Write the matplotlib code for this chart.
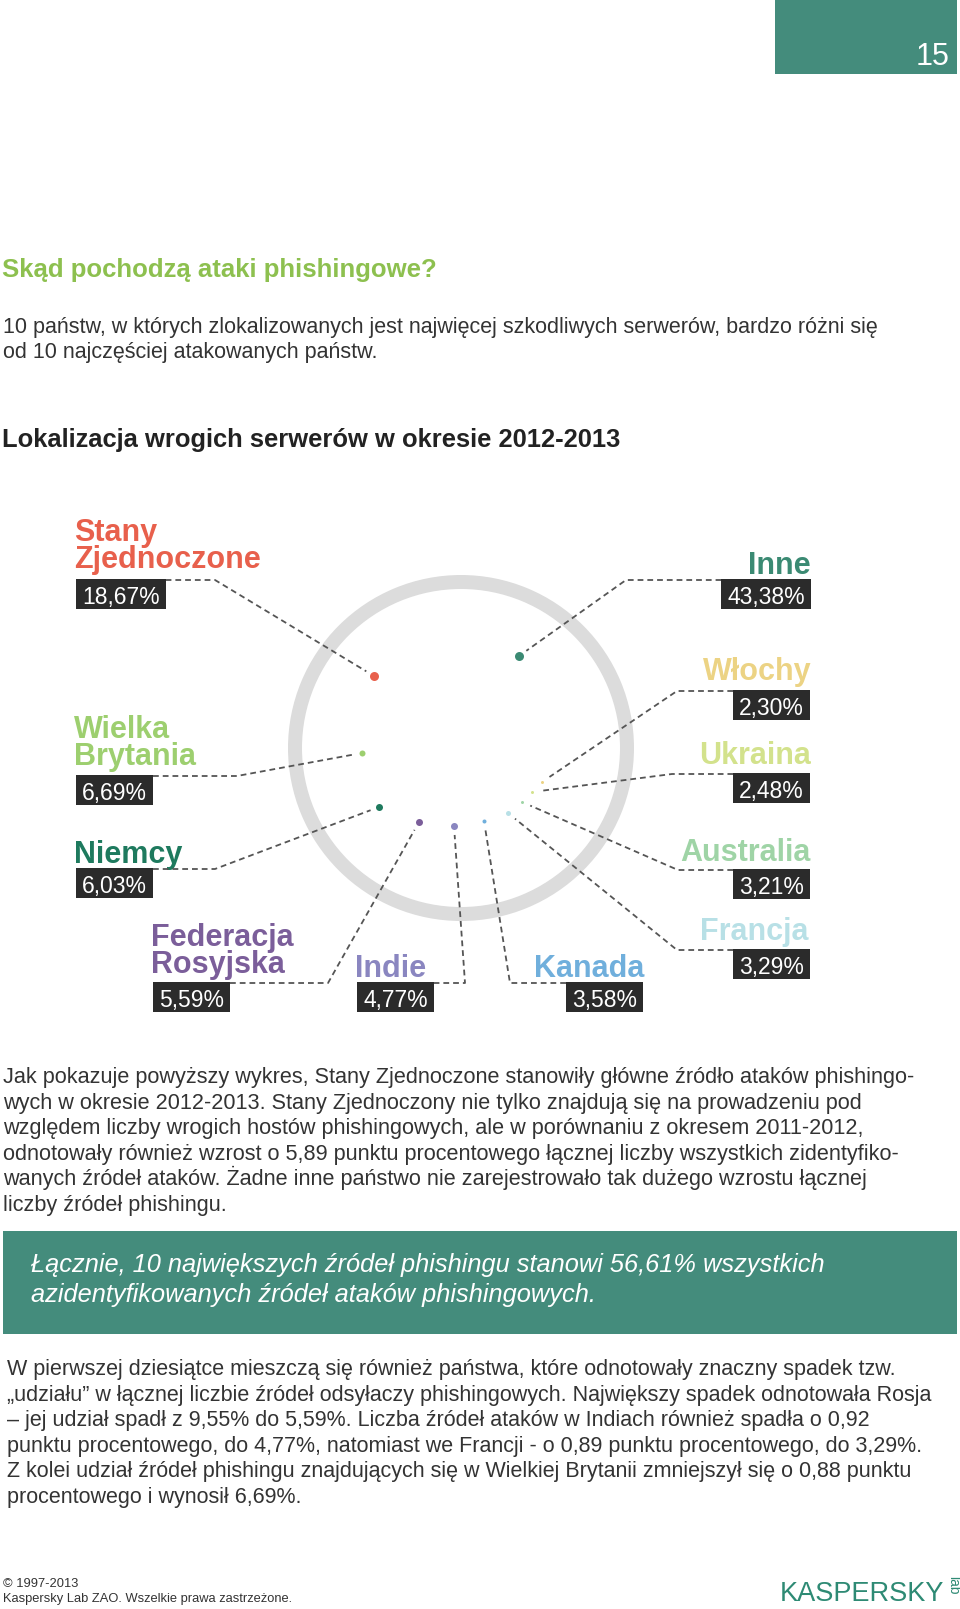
import matplotlib
matplotlib.use('Agg')
import matplotlib.pyplot as plt
from matplotlib.patches import Rectangle, Annulus

W, H = 960, 1609

# chart data
countries = ['Stany\nZjednoczone', 'Wielka\nBrytania', 'Niemcy', 'Federacja\nRosyjska', 'Indie',
             'Kanada', 'Francja', 'Australia', 'Ukraina', 'Włochy', 'Inne']
shares = [18.67, 6.69, 6.03, 5.59, 4.77, 3.58, 3.29, 3.21, 2.48, 2.30, 43.38]
colors = ['#e8604c', '#9dcf6f', '#1e7a5e', '#7b5e9a', '#8a86c0',
          '#70afdc', '#b8e0e6', '#9fd4a6', '#d3e28c', '#ecd384', '#3b8a73']

# layout (pixels): side, name x, first baseline, box x (left side: left edge, right side: right edge),
# box top, elbow x, dot x, dot y, dot diameter
layout = [
    ('L', 74, 543, 76, 579, 215, 374, 676, 9),
    ('L', 74, 740, 76, 775, 237, 362, 753, 6),
    ('L', 74, 863, 76, 868, 215, 379, 807, 7),
    ('L', 151, 948, 153, 982, 328, 419, 822, 7),
    ('L', 355, 977, 357, 982, 465, 454, 826, 7),
    ('R', 644, 977, 643, 982, 510, 484, 821, 4),
    ('R', 809, 940, 810, 949, 677, 508, 813, 5),
    ('R', 811, 861, 810, 869, 678, 522, 802, 3),
    ('R', 811, 764, 810, 773, 672, 532, 792, 3),
    ('R', 812, 680, 810, 690, 677, 542, 782, 3),
    ('R', 811, 574, 811, 579, 626, 519, 656, 9),
]
ring_center = (461, 748)

heading = 'Skąd pochodzą ataki phishingowe?'
intro = ['10 państw, w których zlokalizowanych jest najwięcej szkodliwych serwerów, bardzo różni się',
         'od 10 najczęściej atakowanych państw.']
chart_title = 'Lokalizacja wrogich serwerów w okresie 2012-2013'
para2 = ['Jak pokazuje powyższy wykres, Stany Zjednoczone stanowiły główne źródło ataków phishingo-',
         'wych w okresie 2012-2013. Stany Zjednoczony nie tylko znajdują się na prowadzeniu pod',
         'względem liczby wrogich hostów phishingowych, ale w porównaniu z okresem 2011-2012,',
         'odnotowały również wzrost o 5,89 punktu procentowego łącznej liczby wszystkich zidentyfiko-',
         'wanych źródeł ataków. Żadne inne państwo nie zarejestrowało tak dużego wzrostu łącznej',
         'liczby źródeł phishingu.']
callout = ['Łącznie, 10 największych źródeł phishingu stanowi 56,61% wszystkich',
           'azidentyfikowanych źródeł ataków phishingowych.']
para3 = ['W pierwszej dziesiątce mieszczą się również państwa, które odnotowały znaczny spadek tzw.',
         '„udziału” w łącznej liczbie źródeł odsyłaczy phishingowych. Największy spadek odnotowała Rosja',
         '– jej udział spadł z 9,55% do 5,59%. Liczba źródeł ataków w Indiach również spadła o 0,92',
         'punktu procentowego, do 4,77%, natomiast we Francji - o 0,89 punktu procentowego, do 3,29%.',
         'Z kolei udział źródeł phishingu znajdujących się w Wielkiej Brytanii zmniejszył się o 0,88 punktu',
         'procentowego i wynosił 6,69%.']
footer = ['© 1997-2013', 'Kaspersky Lab ZAO. Wszelkie prawa zastrzeżone.']

TEAL = '#448c7c'
DARK = '#2b2b2b'
TXT = '#333333'

plt.rcParams['font.family'] = ['Liberation Sans', 'DejaVu Sans']

fig = plt.figure(figsize=(W / 100, H / 100), dpi=100)
ax = fig.add_axes([0, 0, 1, 1])
ax.set_xlim(0, W)
ax.set_ylim(H, 0)
ax.axis('off')

# page number tab
ax.add_patch(Rectangle((775, 0), 182, 74, color=TEAL, lw=0))
ax.text(949, 65, '15', color='white', fontsize=22, ha='right', va='baseline')

ax.text(2, 277, heading, color='#8dc04f', fontsize=18.5, fontweight='bold', va='baseline')
for i, line in enumerate(intro):
    ax.text(3, 333 + 25 * i, line, color=TXT, fontsize=15.5, va='baseline')
ax.text(2, 447, chart_title, color='#222222', fontsize=18.4, fontweight='bold', va='baseline')

# ring
ax.add_patch(Annulus(ring_center, 173, 14, color='#dcdcdc', lw=0))

# labels
pct_texts = []
for name, val, col, lay in zip(countries, shares, colors, layout):
    side, nx, nb, bx, btop, ex, dx, dy, dd = lay
    ha = 'left' if side == 'L' else 'right'
    # multi-line text: baseline alignment applies to the last line
    last_base = nb + 25 * name.count('\n')
    ax.text(nx, last_base, name, color=col, fontsize=22, fontweight='bold',
            ha=ha, va='baseline', linespacing=0.86, multialignment=ha)
    lbl = f'{val:.2f}'.replace('.', ',') + '%'
    tx = bx + 6 if side == 'L' else bx - 6
    t = ax.text(tx, btop + 25, lbl, color='white', fontsize=16.5, ha=ha, va='baseline', zorder=5)
    pct_texts.append(t)

fig.canvas.draw()
renderer = fig.canvas.get_renderer()

for t, col, lay in zip(pct_texts, colors, layout):
    side, nx, nb, bx, btop, ex, dx, dy, dd = lay
    bw = t.get_window_extent(renderer).width + 12
    x0 = bx if side == 'L' else bx - bw
    ax.add_patch(Rectangle((x0, btop), bw, 30, color=DARK, lw=0, zorder=4))
    edge = x0 + bw if side == 'L' else x0
    # leader line stops a little before the dot
    vx, vy = dx - ex, dy - (btop + 1)
    n = (vx ** 2 + vy ** 2) ** 0.5
    endx, endy = dx - vx / n * 9, dy - vy / n * 9
    ax.plot([edge, ex, endx], [btop + 1, btop + 1, endy], color='#555555', lw=1.3,
            linestyle=(0, (3.2, 2.2)), zorder=3)
    ax.scatter([dx], [dy], s=(dd * 0.72) ** 2, color=col, lw=0, zorder=6)

for i, line in enumerate(para2):
    ax.text(3, 1083 + 25.6 * i, line, color=TXT, fontsize=15.6, va='baseline')

ax.add_patch(Rectangle((3, 1231), 954, 103, color=TEAL, lw=0))
for i, line in enumerate(callout):
    ax.text(31, 1272 + 30 * i, line, color='white', fontsize=18.3, style='italic', va='baseline')

for i, line in enumerate(para3):
    ax.text(7, 1375 + 25.6 * i, line, color=TXT, fontsize=15.5, va='baseline')

for i, line in enumerate(footer):
    ax.text(3, 1587 + 15 * i, line, color=TXT, fontsize=9.3, va='baseline')

# logo
ax.text(944, 1601, 'KASPERSKY', color='#2e8a74', fontsize=19.5, ha='right', va='baseline')
ax.text(953, 1585, 'lab', color='#2e8a74', fontsize=10, rotation=-90, ha='center', va='center')

fig.savefig('out.png', dpi=100)
